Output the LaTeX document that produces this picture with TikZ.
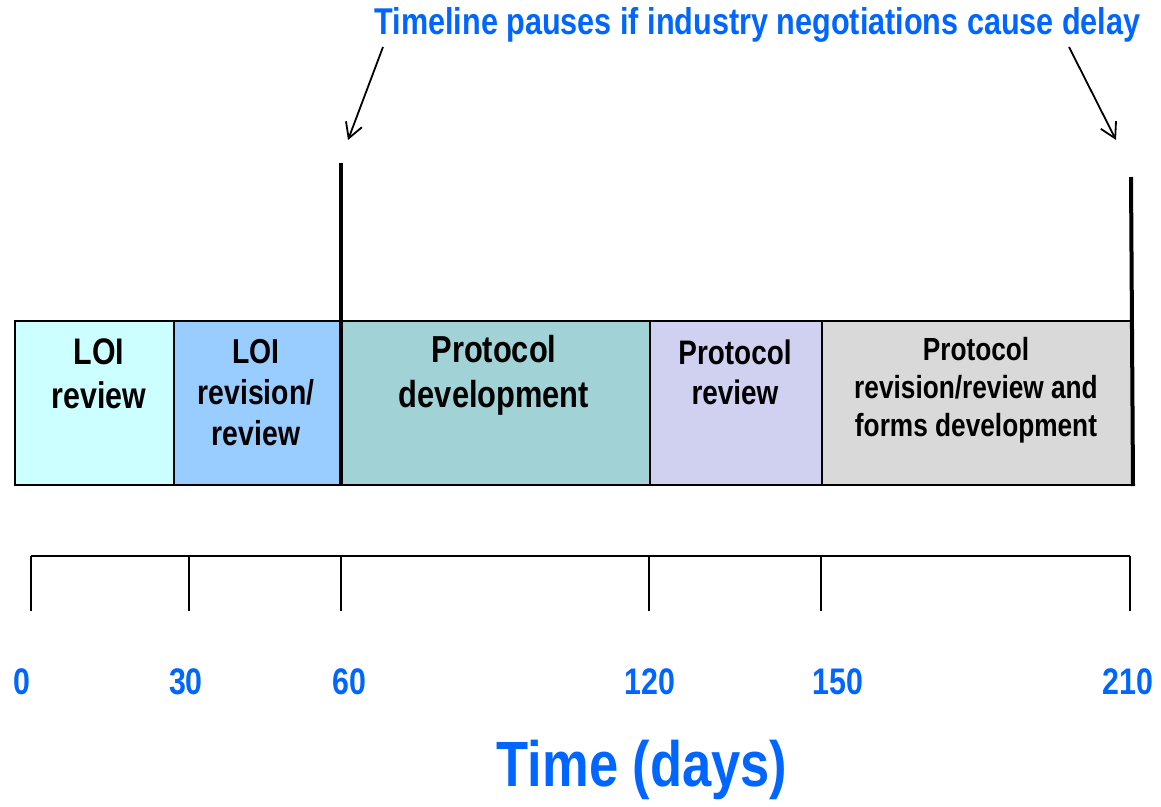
\documentclass[tikz,border=0pt]{standalone}
\usepackage{fontspec}
\setmainfont{Liberation Sans}[FakeStretch=0.82]
\usetikzlibrary{arrows.meta}

\definecolor{loirevcol}{HTML}{CCFFFF}
\definecolor{loiredcol}{HTML}{99CCFF}
\definecolor{devcol}{HTML}{A1D3D6}
\definecolor{protrevcol}{HTML}{D0D0F0}
\definecolor{formscol}{HTML}{D9D9D9}
\definecolor{timeblue}{HTML}{0066FF}

\begin{document}
\begin{tikzpicture}[x=1pt,y=-1pt,
        phase/.style={draw=black,line width=2pt,anchor=north west,minimum height=164pt,inner sep=0pt},
        phasetext/.style={align=center,font=\bfseries\fontsize{37}{44}\selectfont},
        pauseline/.style={line width=4pt},
        pausearrow/.style={line width=1.8pt,-{Straight Barb[length=15pt,width=17pt,line width=1.8pt]}},
        tick/.style={line width=1.5pt},
        daylabel/.style={text=timeblue,font=\bfseries\fontsize{37}{40}\selectfont}]
    \useasboundingbox (0,0) rectangle (1161,806);

    \node[phase,fill=loirevcol,minimum width=159pt] (loi) at (14,320) {};
    \node[phase,fill=loiredcol,minimum width=168pt] (loired) at (173,320) {};
    \node[phase,fill=devcol,minimum width=308pt] (dev) at (341,320) {};
    \node[phase,fill=protrevcol,minimum width=172pt] (protrev) at (649,320) {};
    \node[phase,fill=formscol,minimum width=310pt] (forms) at (821,320) {};

    \node[phasetext] (tloi) at (99,374) {LOI\\review};
    \node[phasetext,font=\bfseries\fontsize{34.6}{41}\selectfont] (tloired) at (256,393) {LOI\\revision/\\review};
    \node[phasetext,font=\bfseries\fontsize{37.6}{45}\selectfont] (tdev) at (494,375) {Protocol\\development};
    \node[phasetext,font=\bfseries\fontsize{34}{40}\selectfont] (tprotrev) at (735,372) {Protocol\\review};
    \node[phasetext,font=\bfseries\fontsize{32}{38}\selectfont] (tforms) at (976,390)
        {Protocol\\revision/review and\\forms development};

    \coordinate (pausea) at (341,163);
    \coordinate (pauseb) at (1131,177);
    \draw[pauseline] (pausea) -- (dev.south west);
    \draw[pauseline] (pauseb) -- (forms.south east);

    \node[text=timeblue,font=\bfseries\fontsize{37.3}{42}\selectfont] (pausenote) at (757.5,25)
        {Timeline pauses if industry negotiations cause delay};
    \coordinate (fromA) at (383,47);
    \coordinate (toA) at (348,140);
    \coordinate (fromB) at (1069,47);
    \coordinate (toB) at (1116,140);
    \draw[pausearrow] (fromA) -- (toA);
    \draw[pausearrow] (fromB) -- (toB);

    \coordinate (axisstart) at (31,556);
    \coordinate (axisend) at (1130,556);
    \draw[line width=2pt] (axisstart) -- (axisend);
    \foreach \x/\d/\lx in {31/0/22,189/30/186,341/60/349,649/120/650,821/150/838,1130/210/1128}
    {
        \draw[tick] (\x,556) -- (\x,611);
        \node[daylabel] (day\d) at (\lx,682) {\d};
    }

    \node[text=timeblue,font=\bfseries\fontsize{64}{72}\selectfont] (timeaxis) at (642,770) {Time (days)};
\end{tikzpicture}
\end{document}
